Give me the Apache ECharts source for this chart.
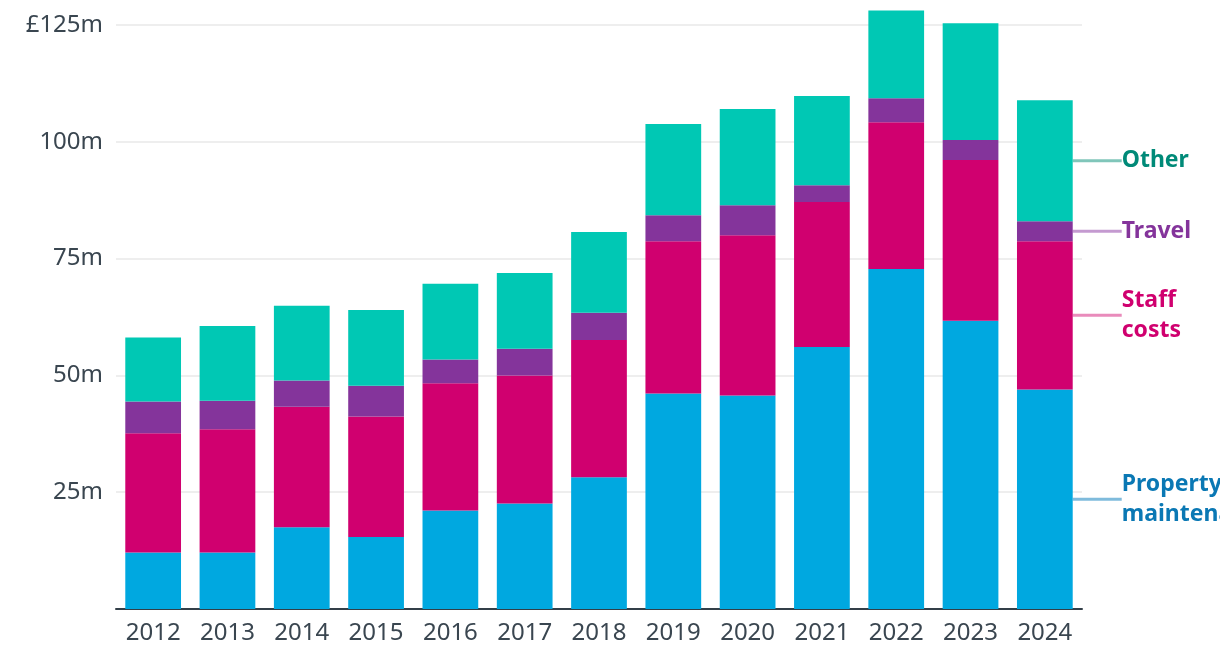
<!DOCTYPE html>
<html><head><meta charset="utf-8">
<script src="https://cdn.jsdelivr.net/npm/echarts@6/dist/echarts.min.js"></script>
<style>html,body{margin:0;padding:0;background:#fff}#c{width:1220px;height:666px}</style>
</head><body><div id="c"></div>
<script>
const years = ['2012','2013','2014','2015','2016','2017','2018','2019','2020','2021','2022','2023','2024'];
const property = [12.1, 12.1, 17.5, 15.4, 21.1, 22.6, 28.2, 46.1, 45.7, 56.1, 72.8, 61.7, 47.0];
const staff    = [25.5, 26.4, 25.8, 25.8, 27.2, 27.4, 29.4, 32.6, 34.3, 31.0, 31.4, 34.4, 31.7];
const travel   = [6.8, 6.1, 5.6, 6.6, 5.1, 5.7, 5.8, 5.6, 6.4, 3.6, 5.1, 4.3, 4.3];
const other    = [13.7, 16.0, 16.0, 16.2, 16.2, 16.2, 17.3, 19.5, 20.6, 19.1, 18.8, 25.0, 25.9];
const yTicks = [0, 25, 50, 75, 100, 125];

const FONT = '"Noto Sans", sans-serif';
function mk(name, vals, color, textColor, lineColor, labelText) {
  const data = vals.map((v, i) => {
    if (i !== vals.length - 1) return v;
    return {
      value: v,
      label: {
        show: true, position: 'right', distance: 49,
        formatter: labelText, color: textColor, fontFamily: FONT,
        fontWeight: 'bold', fontSize: 23, lineHeight: 30, align: 'left'
      },
      labelLine: { show: true, length2: 0, lineStyle: { color: lineColor, width: 3 } }
    };
  });
  return {
    name, type: 'bar', stack: 'total', data, clip: false,
    barCategoryGap: '25%',
    itemStyle: { color },
    emphasis: { disabled: true },
    label: { show: false },
    labelLayout: { hideOverlap: false }
  };
}

const chart = echarts.init(document.getElementById('c'), null, { renderer: 'canvas' });
chart.setOption({
  animation: false,
  grid: { left: 116, right: 138, top: 25, bottom: 57, containLabel: false },
  xAxis: {
    type: 'category', data: years,
    axisLine: { lineStyle: { color: '#333f48', width: 2 } },
    axisTick: { show: false },
    axisLabel: { color: '#3a4650', fontSize: 24, fontFamily: FONT, margin: 12, interval: 0 }
  },
  yAxis: {
    type: 'value', min: yTicks[0], max: yTicks[yTicks.length - 1], interval: 25,
    axisLine: { show: false }, axisTick: { show: false },
    splitLine: { lineStyle: { color: '#eeeeee', width: 2 } },
    axisLabel: {
      color: '#3a4650', fontSize: 24, fontFamily: FONT, margin: 13,
      formatter: v => v === 0 ? '' : (v === 125 ? '£' + v + 'm' : v + 'm')
    }
  },
  series: [
    mk('Property maintenance', property, '#00a8e0', '#0a78b4', '#7fbbdc', 'Property\nmaintenance'),
    mk('Staff costs', staff, '#d0006f', '#d0006f', '#e98bbb', 'Staff\ncosts'),
    mk('Travel', travel, '#84349b', '#84349b', '#c49ad0', 'Travel'),
    mk('Other', other, '#00c8b4', '#008a78', '#80c6ba', 'Other')
  ]
});
</script></body></html>
